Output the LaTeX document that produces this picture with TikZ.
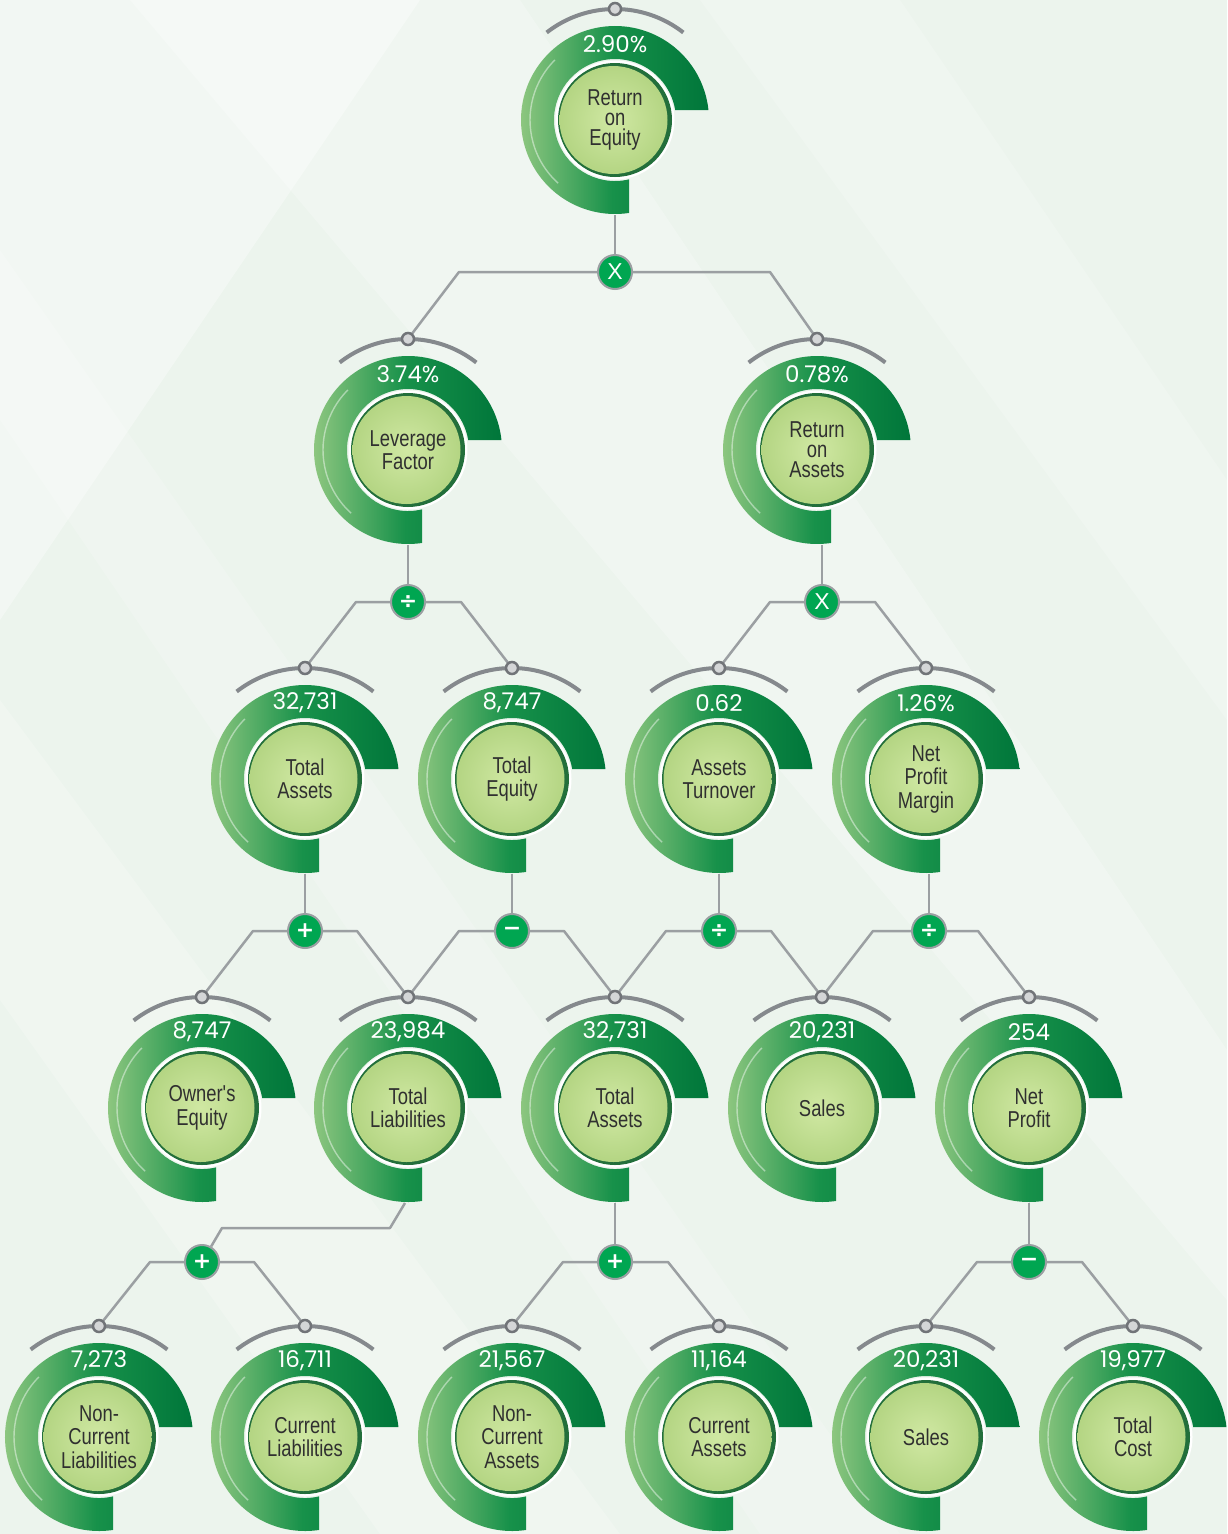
\documentclass[tikz,border=0pt]{standalone}
\usepackage{fontspec}
\setmainfont{Liberation Sans}
\newfontfamily\labelfont[FakeStretch=0.8]{Liberation Sans}
\newfontfamily\valfont{Poppins}
\newfontfamily\symfont{DejaVu Sans}
\usetikzlibrary{calc}
\pgfdeclarelayer{back}
\pgfdeclarelayer{lines}
\pgfsetlayers{back,lines,main}
\definecolor{ringL}{HTML}{93C982}
\definecolor{ringM}{HTML}{17914A}
\definecolor{ringD}{HTML}{00763A}
\definecolor{innerB}{HTML}{236F3B}
\definecolor{innerC}{HTML}{D0E8A3}
\definecolor{innerO}{HTML}{B4D583}
\definecolor{arcgray}{HTML}{85898D}
\definecolor{linegray}{HTML}{9B9FA2}
\definecolor{opgreen}{HTML}{00A651}
\definecolor{bgbase}{HTML}{ECF4ED}
\definecolor{labeltext}{HTML}{303030}
\tikzset{
  toparc/.style={draw=arcgray, line width=4pt},
  knob/.style={draw=arcgray!85!black, line width=2.5pt, fill=arcgray!35!white},
  valstyle/.style={text=white, font=\valfont\fontsize{23}{23}\selectfont, inner sep=0pt},
  labelstyle/.style={text=labeltext, align=center, inner sep=0pt,
     font=\labelfont\fontsize{23}{23.5}\selectfont},
  opnode/.style={circle, fill=opgreen, draw=linegray, line width=2pt,
     minimum size=34pt, inner sep=0pt, text=white,
     font=\symfont\bfseries\fontsize{22}{22}\selectfont},
  conn/.style={draw=linegray, line width=2.5pt, line join=round}
}
\newcommand\gauge[5]{%
\begin{scope}[shift={(#2,#3)}]
  \draw[toparc] (-128:111) arc[start angle=-128, end angle=-52, radius=111];
  \shade[left color=ringL, right color=ringD, middle color=ringM]
    (-6.1:94) arc[start angle=-6.1, end angle=-278.6, radius=94]
    -- (-283.3:61) arc[start angle=-283.3, end angle=-9.43, radius=61] -- cycle;
  \draw[white, opacity=.45, line width=1.4pt] (-135:85) arc[start angle=-135, end angle=-228, radius=85];
  \fill[white] (0,0) circle[radius=59.5];
  \fill[innerB] (0,0) circle[radius=57];
  \shade[inner color=innerC, outer color=innerO] (-1.5,0) circle[radius=54];
  \draw[knob] (0,-111) circle[radius=6];
  \node[valstyle] (#1-val) at (0,-76) {#4};
  \node[labelstyle] (#1) at (0,0) {#5};
  \coordinate (#1-top) at (0,-111);
  \coordinate (#1-bot) at (0,95);
\end{scope}}
\newcommand\opconn[3]{%
  \draw[conn] (#1) -- ($(#2-top |- #1)+(51,0)$) -- (#2-top);
  \draw[conn] (#1) -- ($(#3-top |- #1)+(-51,0)$) -- (#3-top);}
\begin{document}
\begin{tikzpicture}[x=1pt, y=-1pt]
\useasboundingbox (0,0) rectangle (1227,1534);
\begin{pgfonlayer}{back}
  \fill[bgbase] (0,0) rectangle (1227,1534);
  \fill[white, opacity=.35] (0,0) -- (420,0) -- (0,620) -- cycle;
  \fill[white, opacity=.25] (130,0) -- (520,0) -- (1227,1050) -- (1227,1300) -- cycle;
  \fill[white, opacity=.22] (0,700) -- (0,1000) -- (380,1534) -- (620,1534) -- cycle;
  \fill[white, opacity=.2] (700,0) -- (900,0) -- (1227,480) -- (1227,720) -- cycle;
  \fill[white, opacity=.18] (0,250) -- (0,420) -- (760,1534) -- (900,1534) -- cycle;
\end{pgfonlayer}
% gauges
\gauge{roe}{615}{120}{2.90\%}{Return\\[-3.5pt]on\\[-3.5pt]Equity}
\gauge{lev}{408}{450}{3.74\%}{Leverage\\Factor}
\gauge{roa}{817}{450}{0.78\%}{Return\\[-3.5pt]on\\[-3.5pt]Assets}
\gauge{ta1}{305}{779}{32,731}{Total\\Assets}
\gauge{te}{512}{779}{8,747}{Total\\Equity}
\gauge{at}{719}{779}{0.62}{Assets\\Turnover}
\gauge{npm}{926}{779}{1.26\%}{Net\\Profit\\Margin}
\gauge{oe}{202}{1108}{8,747}{Owner's\\Equity}
\gauge{tl}{408}{1108}{23,984}{Total\\Liabilities}
\gauge{ta2}{615}{1108}{32,731}{Total\\Assets}
\gauge{sal1}{822}{1108}{20,231}{Sales}
\gauge{np}{1029}{1108}{254}{Net\\Profit}
\gauge{ncl}{99}{1437}{7,273}{Non-\\Current\\Liabilities}
\gauge{cl}{305}{1437}{16,711}{Current\\Liabilities}
\gauge{nca}{512}{1437}{21,567}{Non-\\Current\\Assets}
\gauge{ca}{719}{1437}{11,164}{Current\\Assets}
\gauge{sal2}{926}{1437}{20,231}{Sales}
\gauge{tc}{1133}{1437}{19,977}{Total\\Cost}
% operators
\node[opnode, font=\fontsize{23}{23}\selectfont] (op0) at (615,272) {X};
\node[opnode] (op1) at (408,602) {÷};
\node[opnode, font=\fontsize{23}{23}\selectfont] (op2) at (822,602) {X};
\node[opnode] (op3) at (305,931) {+};
\node[opnode] (op4) at (512,931) {−};
\node[opnode] (op5) at (719,931) {÷};
\node[opnode] (op6) at (929,931) {÷};
\node[opnode] (op7) at (202,1262) {+};
\node[opnode] (op8) at (615,1262) {+};
\node[opnode] (op9) at (1029,1262) {−};
% connectors
\begin{pgfonlayer}{lines}
  \draw[conn] (op0 |- roe-bot) -- (op0);
  \draw[conn] (op1 |- lev-bot) -- (op1);
  \draw[conn] (op2 |- roa-bot) -- (op2);
  \draw[conn] (op3 |- ta1-bot) -- (op3);
  \draw[conn] (op4 |- te-bot) -- (op4);
  \draw[conn] (op5 |- at-bot) -- (op5);
  \draw[conn] (op6 |- npm-bot) -- (op6);
  \draw[conn] (op8 |- ta2-bot) -- (op8);
  \draw[conn] (op9 |- np-bot) -- (op9);
  \draw[conn] ($(tl-bot)+(-3,0)$) -- (390,1228) -- (222,1228) -- (op7);
  \draw[conn] (op0) -- ($(lev-top |- op0)+(51,0)$) -- (lev-top);
  \draw[conn] (op0) -- ($(roa-top |- op0)+(-47,0)$) -- (roa-top);
  \opconn{op1}{ta1}{te}
  \opconn{op2}{at}{npm}
  \opconn{op3}{oe}{tl}
  \opconn{op4}{tl}{ta2}
  \opconn{op5}{ta2}{sal1}
  \opconn{op6}{sal1}{np}
  \opconn{op7}{ncl}{cl}
  \opconn{op8}{nca}{ca}
  \opconn{op9}{sal2}{tc}
\end{pgfonlayer}
\end{tikzpicture}
\end{document}
